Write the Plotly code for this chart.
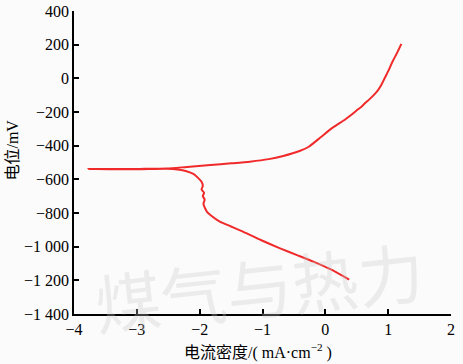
import plotly.graph_objects as go

# Cathodic branch (from split point down to lower right)
cath_x = [-2.52, -2.35, -2.21, -2.10, -2.03, -1.97, -1.95, -1.97, -1.93, -1.95, -1.92, -1.94, -1.91, -1.88, -1.83, -1.68, -1.50, -1.25, -1.00, -0.72, -0.45, -0.19, 0.08, 0.38]
cath_y = [-537, -542, -552, -568, -590, -615, -640, -660, -680, -700, -720, -745, -775, -795, -812, -851, -880, -921, -965, -1010, -1050, -1089, -1134, -1196]

# Anodic branch (from left end to upper right)
anod_x = [-3.77, -3.5, -2.95, -2.52, -2.2, -1.83, -1.5, -1.2, -0.9, -0.67, -0.40, -0.27, -0.08, 0.10, 0.22, 0.32, 0.42, 0.50, 0.57, 0.63, 0.70, 0.77, 0.83, 0.89, 0.95, 1.01, 1.07, 1.14, 1.21]
anod_y = [-539, -539, -538, -536, -526, -515, -505, -495, -480, -461, -430, -408, -352, -297, -268, -243, -215, -190, -170, -148, -125, -100, -75, -40, 5, 50, 100, 150, 205]

x_ticks = [-4, -3, -2, -1, 0, 1, 2]
x_ticktext = ["\u22124", "\u22123", "\u22122", "\u22121", "0", "1", "2"]
y_ticks = [400, 200, 0, -200, -400, -600, -800, -1000, -1200, -1400]
y_ticktext = ["400", "200", "0", "\u2212200", "\u2212400", "\u2212600", "\u2212800", "\u22121 000", "\u22121 200", "\u22121 400"]

# Full curve: cathodic reversed up to split, then along to left end, then anodic
curve_x = cath_x[::-1] + [-3.0, -3.77] + anod_x[1:]
curve_y = cath_y[::-1] + [-540, -539] + anod_y[1:]

fig = go.Figure()
fig.add_trace(go.Scatter(x=curve_x, y=curve_y, mode="lines",
                         line=dict(color="#f02a2a", width=2, shape="spline", smoothing=0.6),
                         showlegend=False))

font_main = "Liberation Serif, Times New Roman, Noto Sans CJK SC, serif"

fig.add_annotation(text="煤气与热力", xref="paper", yref="paper", x=0.49, y=0.095,
                   yanchor="middle", showarrow=False, textangle=-6,
                   font=dict(family="Noto Sans CJK SC", size=66, color="rgba(200,200,200,0.3)"))

fig.add_annotation(text="电流密度/( mA·cm<sup>−2</sup> )", xref="paper", yref="paper",
                   x=0.488, y=-0.125, xanchor="center", yanchor="middle", showarrow=False,
                   font=dict(family=font_main, size=16, color="black"))
fig.add_annotation(text="电位/mV", xref="paper", yref="paper",
                   x=-0.164, y=0.54, xanchor="center", yanchor="middle", showarrow=False,
                   textangle=-90, font=dict(family=font_main, size=16, color="black"))

fig.update_layout(
    width=463, height=364,
    margin=dict(l=74, r=12, t=11, b=50),
    paper_bgcolor="#fbfbfb", plot_bgcolor="#fbfbfb",
    font=dict(family=font_main, size=16, color="black"),
    xaxis=dict(range=[-4, 2], tickvals=x_ticks, ticktext=x_ticktext, automargin=False,
               showline=True, linecolor="black", linewidth=1.5,
               ticks="inside", ticklen=5, tickwidth=1.5, tickcolor="black",
               showgrid=False, zeroline=False),
    yaxis=dict(range=[-1400, 400], tickvals=y_ticks, ticktext=y_ticktext, automargin=False,
               showline=True, linecolor="black", linewidth=1.5,
               ticks="inside", ticklen=5, tickwidth=1.5, tickcolor="black",
               showgrid=False, zeroline=False),
)

fig.write_html("out.html", config={"displayModeBar": False},
               post_script="document.body.style.margin='0';document.body.style.background='#fbfbfb';")
